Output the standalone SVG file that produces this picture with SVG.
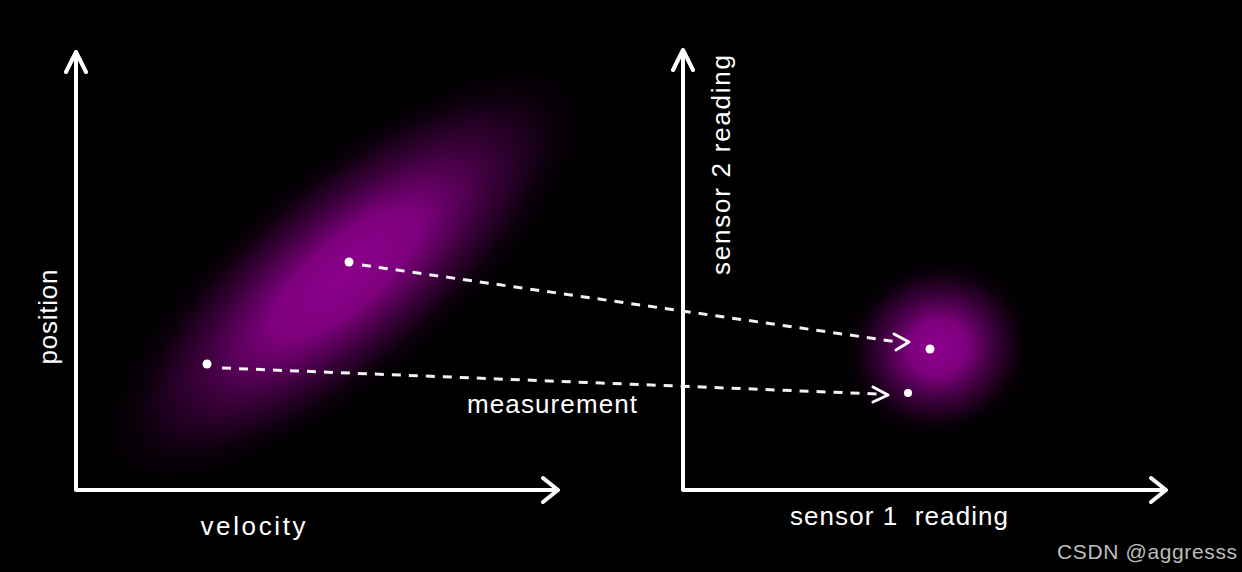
<svg xmlns="http://www.w3.org/2000/svg" width="1242" height="572" viewBox="0 0 1242 572">
<style>
.axis{stroke:#fff;stroke-width:4;fill:none;stroke-linecap:round;stroke-linejoin:round}
.dash{stroke:#f2f2f2;stroke-width:3;fill:none;stroke-dasharray:9 8}
.head{stroke:#fff;stroke-width:3;fill:none;stroke-linecap:round;stroke-linejoin:round}
.lbl{fill:#fff;font-family:"Liberation Sans",sans-serif;font-size:26px}
.dot{fill:#fff}
</style>
<defs>
<radialGradient id="g1">
<stop offset="0" stop-color="#8c008c"/>
<stop offset="0.3" stop-color="#7e007e"/>
<stop offset="0.6" stop-color="#3a003a"/>
<stop offset="0.85" stop-color="#0c000c"/>
<stop offset="1" stop-color="#000"/>
</radialGradient>
</defs>
<rect width="1242" height="572" fill="#000"/>
<g id="blob-left"><ellipse cx="345" cy="275" rx="300" ry="108" fill="url(#g1)" transform="rotate(-40 345 275)"/></g>
<g id="blob-right"><ellipse cx="938" cy="348" rx="95" ry="88" fill="url(#g1)" transform="rotate(-20 938 348)"/></g>
<g id="axes-left">
<path class="axis" d="M76 490 V52 M66 72 L76 52 L86 72 M76 490 H558 M543 478 L558 490 L543 502"/>
</g>
<g id="axes-right">
<path class="axis" d="M683 490 V50 M673 70 L683 50 L693 70 M683 490 H1166 M1151 478 L1166 490 L1151 502"/>
</g>
<g id="points">
<circle class="dot" cx="349" cy="262" r="4.5"/>
<circle class="dot" cx="207" cy="364" r="4.5"/>
<circle class="dot" cx="930" cy="349" r="4.5"/>
<circle class="dot" cx="908" cy="393" r="4"/>
</g>
<g id="connectors">
<path class="dash" d="M362 265 L898 342"/>
<path class="head" d="M894 334 L909 342 L896 350"/>
<path class="dash" d="M222 368 L878 394"/>
<path class="head" d="M873 387 L888 395 L873 402"/>
</g>
<g id="labels">
<text class="lbl" x="0" y="0" transform="translate(57 317) rotate(-90)" text-anchor="middle" textLength="95">position</text>
<text class="lbl" x="253" y="535" text-anchor="middle" textLength="105">velocity</text>
<text class="lbl" x="552" y="413" text-anchor="middle" textLength="170">measurement</text>
<text class="lbl" x="0" y="0" transform="translate(730 165) rotate(-90)" text-anchor="middle" textLength="220">sensor 2 reading</text>
<text class="lbl" x="899" y="525" text-anchor="middle" textLength="218" xml:space="preserve">sensor 1  reading</text>
<text x="1147" y="559" text-anchor="middle" fill="#bdbdbd" font-family="Liberation Sans, sans-serif" font-size="21" textLength="180">CSDN @aggresss</text>
</g>
</svg>
